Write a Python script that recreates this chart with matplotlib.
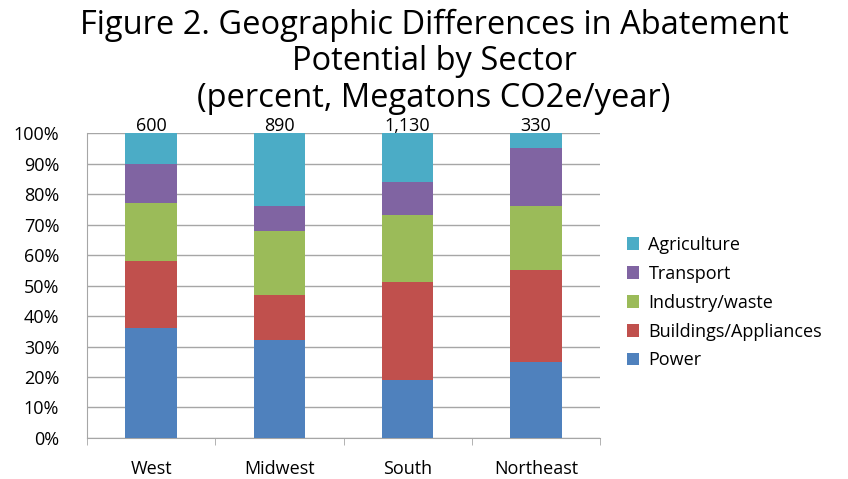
import matplotlib.pyplot as plt
import numpy as np

plt.rcParams["font.family"] = ["Open Sans", "DejaVu Sans"]

regions = ["West", "Midwest", "South", "Northeast"]
totals = ["600", "890", "1,130", "330"]

sectors = ["Power", "Buildings/Appliances", "Industry/waste", "Transport", "Agriculture"]
power = [36, 32, 19, 25]
buildings = [22, 15, 32, 30]
industry = [19, 21, 22, 21]
transport = [13, 8, 11, 19]
agriculture = [10, 24, 16, 5]

colors = ["#4F81BD", "#C0504D", "#9BBB59", "#8064A2", "#4BACC6"]

fig = plt.figure(figsize=(8.48, 4.79), dpi=100)
ax = fig.add_axes([0.1026, 0.0856, 0.605, 0.6367])

x = np.arange(len(regions))
bottom = np.zeros(len(regions))
handles = []
for vals, name, col in zip([power, buildings, industry, transport, agriculture], sectors, colors):
    b = ax.bar(x, vals, 0.4, bottom=bottom, color=col, label=name, zorder=3)
    handles.append(b)
    bottom += np.array(vals)

# totals in Mt CO2e/year above each bar
for xi, t, top in zip(x, totals, bottom):
    ax.text(xi, top - 0.5, t, ha="center", va="bottom", fontsize=13)

ax.set_xlim(-0.5, 3.5)
ax.set_ylim(0, 100)
ax.set_yticks(range(0, 101, 10))
ax.set_yticklabels([f"{v}%" for v in range(0, 101, 10)], fontsize=13)
ax.yaxis.grid(True, color="#A6A6A6", linewidth=1, zorder=0)
ax.tick_params(axis="y", length=0, pad=20)

ax.set_xticks(x)
ax.set_xticklabels(regions, fontsize=13)
ax.set_xticks(np.arange(-0.5, 4, 1), minor=True)
ax.tick_params(axis="x", which="major", length=0, pad=16)
ax.tick_params(axis="x", which="minor", length=5, color="#A6A6A6", direction="out")

for side in ["top", "right"]:
    ax.spines[side].set_visible(False)
ax.spines["left"].set_color("#A6A6A6")
ax.spines["bottom"].set_color("#A6A6A6")

fig.legend(handles[::-1], sectors[::-1], loc="center left",
           bbox_to_anchor=(0.72, 0.368), frameon=False, fontsize=13,
           handlelength=0.7, handleheight=0.7, handletextpad=0.5,
           labelspacing=0.6)

fig.text(0.512, 0.982, "Figure 2. Geographic Differences in Abatement\nPotential by Sector\n(percent, Megatons CO2e/year)",
         ha="center", va="top", fontsize=23.5, linespacing=1.14)

fig.savefig("out.png", dpi=100)
